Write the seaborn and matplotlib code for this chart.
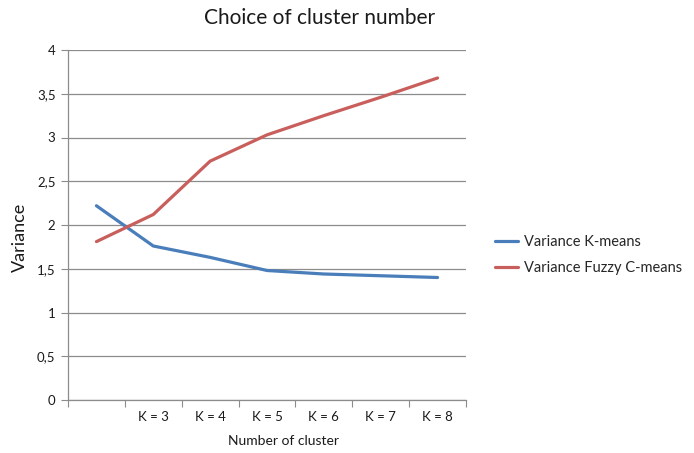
import matplotlib
matplotlib.use("Agg")
import matplotlib.pyplot as plt
import seaborn as sns
import pandas as pd
from matplotlib.ticker import FuncFormatter

# data
categories = ["", "K = 3", "K = 4", "K = 5", "K = 6", "K = 7", "K = 8"]
kmeans = [2.22, 1.76, 1.63, 1.48, 1.44, 1.42, 1.40]
fuzzy = [1.81, 2.12, 2.73, 3.03, 3.25, 3.46, 3.68]
series_names = ["Variance K-means", "Variance Fuzzy C-means"]
colors = ["#4A7EBB", "#C85F5C"]

sns.set_style("white")
plt.rcParams["font.family"] = ["Lato", "DejaVu Sans"]

df = pd.DataFrame({
    "pos": list(range(len(categories))) * 2,
    "value": kmeans + fuzzy,
    "series": [series_names[0]] * len(kmeans) + [series_names[1]] * len(fuzzy),
})

fig = plt.figure(figsize=(6.94, 4.53), dpi=100)
ax = fig.add_axes([68 / 694, 1 - 400 / 453, (466 - 68) / 694, 350 / 453])

sns.lineplot(data=df, x="pos", y="value", hue="series", palette=colors,
             linewidth=2.3, ax=ax, legend=False)

ax.set_xlim(-0.5, len(categories) - 0.5)
ax.set_ylim(0, 4)
ax.set_yticks([i * 0.5 for i in range(9)])
ax.yaxis.set_major_formatter(FuncFormatter(lambda v, p: f"{v:g}".replace(".", ",")))
ax.grid(axis="y", color="#8c8c8c", linewidth=0.9)
ax.set_axisbelow(True)

# category boundaries as ticks, labels centered
ax.set_xticks([i - 0.5 for i in range(len(categories) + 1)])
ax.set_xticklabels([])
ax.set_xticks(range(len(categories)), minor=True)
ax.set_xticklabels(categories, minor=True, fontsize=9.5, color="#1a1a1a")
ax.tick_params(axis="x", which="major", length=5, color="#8c8c8c", direction="out", bottom=True)
ax.tick_params(axis="x", which="minor", length=0, pad=8)
ax.tick_params(axis="y", length=5, color="#8c8c8c", direction="out", left=True,
               labelsize=9.5, labelcolor="#1a1a1a", pad=4)

for s in ["top", "right"]:
    ax.spines[s].set_visible(False)
for s in ["left", "bottom"]:
    ax.spines[s].set_color("#8c8c8c")
    ax.spines[s].set_linewidth(0.9)

ax.set_xlabel("")
ax.set_ylabel("")
fig.text(283 / 694, 1 - 441 / 453, "Number of cluster", ha="center", va="center",
         fontsize=10, color="#1a1a1a")
fig.text(20 / 694, 1 - 237 / 453, "Variance", ha="center", va="center",
         rotation=90, fontsize=13, color="#1a1a1a")
fig.text(320 / 694, 1 - 18 / 453, "Choice of cluster number", ha="center",
         va="center", fontsize=15, color="#1a1a1a")

handles = [plt.Line2D([], [], color=c, linewidth=2.3) for c in colors]
fig.legend(handles, series_names, loc="center left",
           bbox_to_anchor=(482 / 694, 1 - 255 / 453), frameon=False,
           fontsize=10.5, handlelength=1.6, handletextpad=0.4, labelspacing=0.8)

fig.savefig("out.png", dpi=100)
